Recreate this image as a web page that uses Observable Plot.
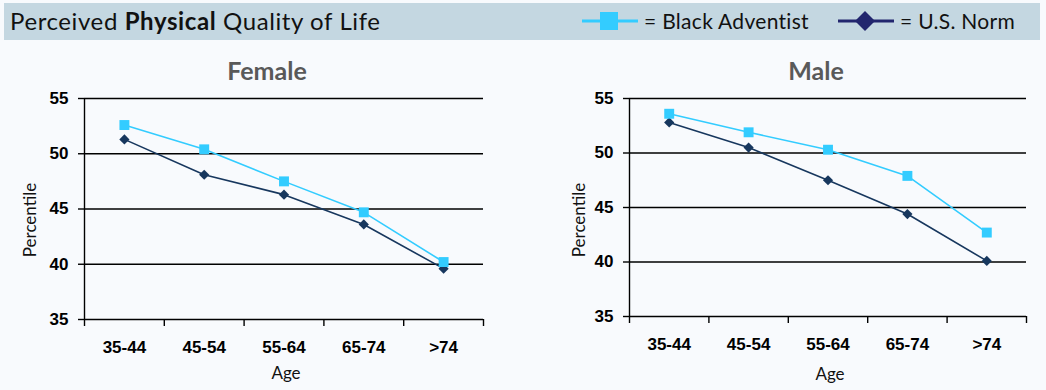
<!DOCTYPE html>
<html><head><meta charset="utf-8">
<script src="https://cdn.jsdelivr.net/npm/d3@7"></script>
<script src="https://cdn.jsdelivr.net/npm/@observablehq/plot@0.6"></script>
<style>
body{margin:0;background:#f8fafd;width:1046px;height:390px;position:relative;overflow:hidden;font-family:Lato,"Noto Sans",sans-serif}
#bar{position:absolute;left:4px;top:3px;width:1036px;height:37px;background:#c4d7e1}
#title{position:absolute;left:10px;top:6px;font-size:24px;letter-spacing:0.6px;color:#111;white-space:nowrap}
.leg{position:absolute;top:8px;font-size:21px;letter-spacing:0.3px;color:#111;white-space:nowrap;display:flex;align-items:center}
.leg svg{margin-right:6px}
.ct{position:absolute;font-size:25px;font-weight:bold;color:#595959;transform:translateX(-50%);white-space:nowrap}
.al{position:absolute;font-size:17px;color:#111;white-space:nowrap}
.chart{position:absolute;top:50px}
</style></head>
<body>
<div id="bar"></div>
<div id="title">Perceived <b>Physical</b> Quality of Life</div>
<div class="leg" style="left:582px"><svg width="56" height="22"><line x1="0" x2="56" y1="11" y2="11" stroke="#33ccff" stroke-width="3"/><rect x="18" y="2" width="18" height="18" fill="#33ccff"/></svg>= Black Adventist</div>
<div class="leg" style="left:838px"><svg width="56" height="22"><line x1="0" x2="56" y1="11" y2="11" stroke="#22266e" stroke-width="3"/><path d="M27,1 L37,11 L27,21 L17,11 Z" fill="#22266e"/></svg>= U.S. Norm</div>
<div class="ct" style="left:267px;top:55px">Female</div>
<div class="ct" style="left:816px;top:55px">Male</div>
<div class="al" style="left:286px;top:362px;transform:translateX(-50%)">Age</div>
<div class="al" style="left:830px;top:363px;transform:translateX(-50%)">Age</div>
<div class="al" style="left:29px;top:220px;transform:translate(-50%,-50%) rotate(-90deg)">Percentile</div>
<div class="al" style="left:578px;top:220px;transform:translate(-50%,-50%) rotate(-90deg)">Percentile</div>
<div id="female" class="chart" style="left:0px"></div>
<div id="male" class="chart" style="left:530px"></div>
<script>
const ages = ["35-44", "45-54", "55-64", "65-74", ">74"];
const yTicks = [35, 40, 45, 50, 55];
const femaleAdventist = [52.6, 50.4, 47.5, 44.7, 40.2];
const femaleNorm = [51.3, 48.1, 46.3, 43.6, 39.6];
const maleAdventist = [53.6, 51.9, 50.3, 47.9, 42.7];
const maleNorm = [52.8, 50.5, 47.5, 44.4, 40.1];
const cyan = "#33ccff", navy = "#17375e";

function chart(adv, norm, opts) {
  const idx = ages.map((_, i) => i);
  const bounds = d3.range(-0.5, ages.length, 1);
  const advData = idx.map(i => ({i, v: adv[i]}));
  const normData = idx.map(i => ({i, v: norm[i]}));
  return Plot.plot({
    width: opts.width, height: 340,
    marginLeft: opts.ml, marginRight: opts.mr, marginTop: 48, marginBottom: opts.mb,
    style: {background: "transparent", fontFamily: "'Liberation Sans', Arial, sans-serif"},
    x: {type: "linear", domain: [bounds[0], bounds[bounds.length - 1]]},
    y: {domain: [yTicks[0], yTicks[yTicks.length - 1]]},
    marks: [
      Plot.gridY(yTicks, {stroke: "#000", strokeOpacity: 1, strokeWidth: 1.4}),
      Plot.ruleX([bounds[0]], {stroke: "#000", strokeWidth: 1.4}),
      Plot.axisY(yTicks, {tickSize: 6, tickPadding: 10, tickFormat: d => d, fontSize: 17, fontWeight: "bold", fill: "#000", strokeWidth: 1.4, label: null}),
      Plot.axisX(bounds, {tickSize: 7, tickFormat: () => "", strokeWidth: 1.4, label: null}),
      Plot.axisX(idx, {tickSize: 0, tickPadding: 21, tickFormat: i => ages[i], fontSize: 17, fontWeight: "bold", fill: "#000", label: null}),
      Plot.line(normData, {x: "i", y: "v", stroke: navy, strokeWidth: 1.6}),
      Plot.line(advData, {x: "i", y: "v", stroke: cyan, strokeWidth: 1.6}),
      Plot.dot(normData, {x: "i", y: "v", symbol: "diamond2", r: 4.6, fill: navy, stroke: "none"}),
      Plot.dot(advData, {x: "i", y: "v", symbol: "square", r: 5.6, fill: cyan, stroke: "none"})
    ]
  });
}
document.getElementById("female").append(chart(femaleAdventist, femaleNorm, {width: 520, ml: 84, mr: 37, mb: 71}));
document.getElementById("male").append(chart(maleAdventist, maleNorm, {width: 516, ml: 99, mr: 20, mb: 74}));
</script>
</body></html>
